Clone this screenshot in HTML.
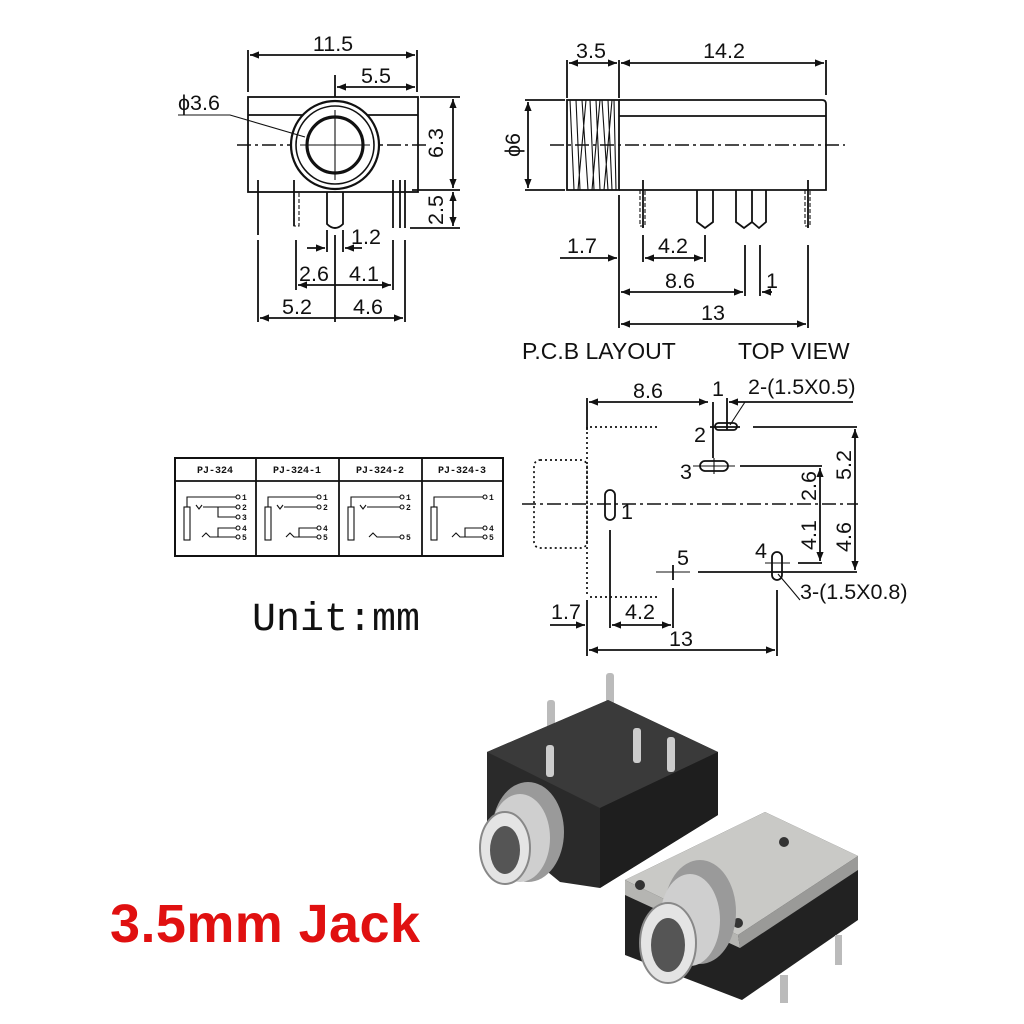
<!DOCTYPE html>
<html><head><meta charset="utf-8"><style>
html,body{margin:0;padding:0;background:#fff}
svg{display:block}
text{font-family:"Liberation Sans",sans-serif;fill:#111}
.d{stroke:#111;stroke-width:1.8;fill:none}
.t{stroke:#111;stroke-width:1.1;fill:none}
.cl{stroke:#111;stroke-width:1.4;fill:none;stroke-dasharray:14 4 3 4}
.dot{stroke:#111;stroke-width:1.7;fill:none;stroke-dasharray:2 3}
.n{font-size:21.5px}
.m{font-family:"Liberation Mono",monospace;font-size:10px;font-weight:bold}
</style></head><body>
<svg width="1024" height="1024" viewBox="0 0 1024 1024" xmlns="http://www.w3.org/2000/svg">
<defs>
<marker id="a" viewBox="0 0 10 10" refX="10" refY="5" markerWidth="7" markerHeight="5" orient="auto-start-reverse"><path d="M0,1 L10,5 L0,9z" fill="#111"/></marker>
</defs>

<!-- FRONT VIEW -->
<g>
<rect class="d" x="248" y="97" width="170" height="95"/>
<line class="d" x1="248" y1="115" x2="418" y2="115"/>
<line class="cl" x1="237" y1="145" x2="428" y2="145"/>
<circle cx="335" cy="145" r="44" fill="#fff" stroke="#111" stroke-width="2.2"/>
<circle cx="335" cy="145" r="39" fill="none" stroke="#111" stroke-width="1.6"/>
<circle cx="335" cy="145" r="28" fill="#fff" stroke="#111" stroke-width="3.2"/>
<line class="t" x1="335" y1="110" x2="335" y2="180"/>
<line class="t" x1="300" y1="145" x2="370" y2="145"/>
<line class="d" x1="258" y1="180" x2="258" y2="235"/>
<rect class="t" x="294" y="192" width="5" height="34" stroke-dasharray="4 2"/>
<line class="d" x1="294" y1="180" x2="294" y2="226"/>
<path class="d" d="M327,192 V224 Q335,232 343,224 V192"/>
<line class="d" x1="393" y1="180" x2="393" y2="228"/>
<line class="d" x1="400" y1="180" x2="400" y2="228"/>
<line class="d" x1="405" y1="180" x2="405" y2="228"/>
<line class="d" x1="248" y1="50" x2="248" y2="92"/>
<line class="d" x1="417" y1="50" x2="417" y2="92"/>
<line class="d" x1="250" y1="55" x2="415" y2="55" marker-start="url(#a)" marker-end="url(#a)"/>
<text class="n" x="333" y="51" text-anchor="middle">11.5</text>
<line class="d" x1="335" y1="75" x2="335" y2="97"/>
<line class="d" x1="337" y1="87" x2="415" y2="87" marker-start="url(#a)" marker-end="url(#a)"/>
<text class="n" x="376" y="83" text-anchor="middle">5.5</text>
<text class="n" x="178" y="110">ϕ3.6</text>
<polyline class="t" points="178,115 230,115 305,137"/>
<line class="d" x1="420" y1="97" x2="460" y2="97"/>
<line class="d" x1="412" y1="190" x2="460" y2="190"/>
<line class="d" x1="410" y1="228" x2="460" y2="228"/>
<line class="d" x1="453" y1="99" x2="453" y2="188" marker-start="url(#a)" marker-end="url(#a)"/>
<line class="d" x1="453" y1="192" x2="453" y2="226" marker-start="url(#a)" marker-end="url(#a)"/>
<text class="n" transform="translate(443,143) rotate(-90)" text-anchor="middle">6.3</text>
<text class="n" transform="translate(443,210) rotate(-90)" text-anchor="middle">2.5</text>
<line class="d" x1="327" y1="230" x2="327" y2="252"/>
<line class="d" x1="343" y1="230" x2="343" y2="252"/>
<line class="d" x1="307" y1="248" x2="325" y2="248" marker-end="url(#a)"/>
<line class="d" x1="362" y1="248" x2="345" y2="248" marker-end="url(#a)"/>
<text class="n" x="366" y="244" text-anchor="middle">1.2</text>
<line class="d" x1="258" y1="240" x2="258" y2="322"/>
<line class="d" x1="296" y1="240" x2="296" y2="290"/>
<line class="d" x1="335" y1="235" x2="335" y2="322"/>
<line class="d" x1="393" y1="240" x2="393" y2="290"/>
<line class="d" x1="405" y1="240" x2="405" y2="322"/>
<line class="d" x1="298" y1="285" x2="391" y2="285" marker-start="url(#a)" marker-end="url(#a)"/>
<text class="n" x="314" y="281" text-anchor="middle">2.6</text>
<text class="n" x="364" y="281" text-anchor="middle">4.1</text>
<line class="d" x1="260" y1="318" x2="403" y2="318" marker-start="url(#a)" marker-end="url(#a)"/>
<text class="n" x="297" y="314" text-anchor="middle">5.2</text>
<text class="n" x="368" y="314" text-anchor="middle">4.6</text>
</g>

<!-- SIDE VIEW -->
<g>
<rect class="d" x="567" y="100" width="52" height="90"/>
<g class="t">
<path d="M570,100 L574,190 M576,100 L580,190 M582,100 L588,190 M590,100 L594,190 M596,100 L600,190 M602,100 L608,190 M608,100 L612,190 M614,100 L616,190 M586,100 L578,190 M600,100 L592,190 M612,100 L604,190"/>
</g>
<path class="d" d="M619,100 H822 Q826,100 826,104 V190 H619"/>
<line class="d" x1="619" y1="116" x2="826" y2="116"/>
<line class="cl" x1="550" y1="145" x2="845" y2="145"/>
<rect class="t" x="640" y="190" width="5" height="36" stroke-dasharray="4 2"/>
<line class="d" x1="643" y1="180" x2="643" y2="228"/>
<path class="d" d="M697,190 V222 L705,228 L713,222 V190"/>
<path class="d" d="M736,190 V222 L744,228 L752,222 V190 M752,190 V222 L759,228 L766,222 V190"/>
<rect class="t" x="805" y="190" width="5" height="36" stroke-dasharray="4 2"/>
<line class="d" x1="808" y1="180" x2="808" y2="228"/>
<line class="d" x1="567" y1="60" x2="567" y2="98"/>
<line class="d" x1="619" y1="60" x2="619" y2="98"/>
<line class="d" x1="826" y1="60" x2="826" y2="95"/>
<line class="d" x1="569" y1="63" x2="617" y2="63" marker-start="url(#a)" marker-end="url(#a)"/>
<line class="d" x1="621" y1="63" x2="824" y2="63" marker-start="url(#a)" marker-end="url(#a)"/>
<text class="n" x="591" y="58" text-anchor="middle">3.5</text>
<text class="n" x="724" y="58" text-anchor="middle">14.2</text>
<line class="d" x1="525" y1="100" x2="565" y2="100"/>
<line class="d" x1="525" y1="190" x2="565" y2="190"/>
<line class="d" x1="528" y1="102" x2="528" y2="188" marker-start="url(#a)" marker-end="url(#a)"/>
<text class="n" transform="translate(520,145) rotate(-90)" text-anchor="middle">ϕ6</text>
<line class="d" x1="619" y1="195" x2="619" y2="328"/>
<line class="d" x1="560" y1="258" x2="617" y2="258" marker-end="url(#a)"/>
<text class="n" x="582" y="253" text-anchor="middle">1.7</text>
<line class="d" x1="643" y1="235" x2="643" y2="262"/>
<line class="d" x1="705" y1="235" x2="705" y2="262"/>
<line class="d" x1="645" y1="258" x2="703" y2="258" marker-start="url(#a)" marker-end="url(#a)"/>
<text class="n" x="673" y="253" text-anchor="middle">4.2</text>
<line class="d" x1="745" y1="245" x2="745" y2="296"/>
<line class="d" x1="760" y1="245" x2="760" y2="296"/>
<line class="d" x1="621" y1="292" x2="743" y2="292" marker-start="url(#a)" marker-end="url(#a)"/>
<line class="d" x1="772" y1="292" x2="762" y2="292" marker-end="url(#a)"/>
<text class="n" x="680" y="288" text-anchor="middle">8.6</text>
<text class="n" x="766" y="288">1</text>
<line class="d" x1="808" y1="245" x2="808" y2="328"/>
<line class="d" x1="621" y1="324" x2="806" y2="324" marker-start="url(#a)" marker-end="url(#a)"/>
<text class="n" x="713" y="320" text-anchor="middle">13</text>
</g>
<text x="522" y="359" style="font-size:23px">P.C.B LAYOUT</text>
<text x="738" y="359" style="font-size:23px">TOP VIEW</text>

<!-- PCB LAYOUT -->
<g>
<line class="d" x1="587" y1="398" x2="587" y2="430"/>
<line class="d" x1="589" y1="402" x2="708" y2="402" marker-start="url(#a)" marker-end="url(#a)"/>
<text class="n" x="648" y="398" text-anchor="middle">8.6</text>
<text class="n" x="718" y="396" text-anchor="middle">1</text>
<text class="n" x="748" y="394">2-(1.5X0.5)</text>
<line class="d" x1="713" y1="402" x2="713" y2="458"/>
<line class="d" x1="727" y1="398" x2="727" y2="430"/>
<line class="d" x1="740" y1="402" x2="729" y2="402" marker-end="url(#a)"/>
<line class="d" x1="740" y1="402" x2="853" y2="402"/>
<line class="t" x1="745" y1="402" x2="730" y2="425"/>
<line class="dot" x1="590" y1="427" x2="658" y2="427"/>
<line class="dot" x1="587" y1="427" x2="587" y2="597"/>
<line class="dot" x1="590" y1="597" x2="658" y2="597"/>
<rect class="dot" x="534" y="460" width="53" height="88" rx="6"/>
<rect class="d" x="715" y="423" width="22" height="7" rx="3.5"/>
<line class="d" x1="710" y1="427" x2="740" y2="427"/>
<line class="d" x1="753" y1="427" x2="857" y2="427"/>
<text class="n" x="700" y="442" text-anchor="middle">2</text>
<rect class="d" x="700" y="461" width="28" height="10" rx="5"/>
<line class="t" x1="714" y1="458" x2="714" y2="474"/>
<line class="t" x1="693" y1="466" x2="735" y2="466"/>
<line class="d" x1="740" y1="466" x2="822" y2="466"/>
<text class="n" x="686" y="479" text-anchor="middle">3</text>
<line class="cl" x1="522" y1="504" x2="858" y2="504"/>
<rect class="d" x="605" y="490" width="10" height="30" rx="5"/>
<text class="n" x="627" y="519" text-anchor="middle">1</text>
<line class="d" x1="610" y1="530" x2="610" y2="628"/>
<line class="t" x1="656" y1="572" x2="690" y2="572"/>
<line class="d" x1="673" y1="565" x2="673" y2="580"/>
<text class="n" x="683" y="565" text-anchor="middle">5</text>
<line class="d" x1="698" y1="572" x2="857" y2="572"/>
<rect class="d" x="772" y="552" width="10" height="28" rx="5"/>
<line class="t" x1="765" y1="563" x2="790" y2="563"/>
<line class="d" x1="798" y1="563" x2="822" y2="563"/>
<text class="n" x="761" y="558" text-anchor="middle">4</text>
<polyline class="t" points="778,574 790,588 800,600"/>
<text class="n" x="800" y="599">3-(1.5X0.8)</text>
<line class="d" x1="777" y1="590" x2="777" y2="656"/>
<line class="d" x1="673" y1="588" x2="673" y2="628"/>
<line class="d" x1="855" y1="429" x2="855" y2="570" marker-start="url(#a)" marker-end="url(#a)"/>
<line class="d" x1="820" y1="468" x2="820" y2="561" marker-start="url(#a)" marker-end="url(#a)"/>
<text class="n" transform="translate(851,465) rotate(-90)" text-anchor="middle">5.2</text>
<text class="n" transform="translate(816,486) rotate(-90)" text-anchor="middle">2.6</text>
<text class="n" transform="translate(816,535) rotate(-90)" text-anchor="middle">4.1</text>
<text class="n" transform="translate(851,537) rotate(-90)" text-anchor="middle">4.6</text>
<line class="d" x1="587" y1="600" x2="587" y2="656"/>
<line class="d" x1="550" y1="625" x2="585" y2="625" marker-end="url(#a)"/>
<text class="n" x="566" y="619" text-anchor="middle">1.7</text>
<line class="d" x1="612" y1="625" x2="671" y2="625" marker-start="url(#a)" marker-end="url(#a)"/>
<text class="n" x="640" y="619" text-anchor="middle">4.2</text>
<line class="d" x1="589" y1="650" x2="775" y2="650" marker-start="url(#a)" marker-end="url(#a)"/>
<text class="n" x="681" y="646" text-anchor="middle">13</text>
</g>

<!-- SCHEMATIC TABLE -->
<g>
<rect x="175" y="458" width="328" height="98" fill="none" stroke="#111" stroke-width="2"/>
<line class="d" x1="175" y1="481" x2="503" y2="481"/>
<line class="d" x1="256" y1="458" x2="256" y2="556"/>
<line class="d" x1="339" y1="458" x2="339" y2="556"/>
<line class="d" x1="422" y1="458" x2="422" y2="556"/>
<text class="m" x="215" y="473" text-anchor="middle">PJ-324</text>
<text class="m" x="297" y="473" text-anchor="middle">PJ-324-1</text>
<text class="m" x="380" y="473" text-anchor="middle">PJ-324-2</text>
<text class="m" x="462" y="473" text-anchor="middle">PJ-324-3</text>
<g transform="translate(175,0)">
<rect class="t" x="9" y="507" width="6" height="33"/>
<polyline class="t" points="12,507 12,497 61,497"/><circle cx="63" cy="497" r="2" class="t"/><text x="67" y="500" class="m" style="font-size:8px">1</text>
<path class="t" d="M21,505 L24,509 L27,505"/>
<polyline class="t" points="28,507 61,507"/><circle cx="63" cy="507" r="2" class="t"/><text x="67" y="510" class="m" style="font-size:8px">2</text>
<polyline class="t" points="43,507 43,517 61,517"/><circle cx="63" cy="517" r="2" class="t"/><text x="67" y="520" class="m" style="font-size:8px">3</text>
<polyline class="t" points="43,537 43,528 61,528"/><circle cx="63" cy="528" r="2" class="t"/><text x="67" y="531" class="m" style="font-size:8px">4</text>
<path class="t" d="M27,537 L31,533 L35,537 H61"/><circle cx="63" cy="537" r="2" class="t"/><text x="67" y="540" class="m" style="font-size:8px">5</text>
</g>
<g transform="translate(256,0)">
<rect class="t" x="9" y="507" width="6" height="33"/>
<polyline class="t" points="12,507 12,497 61,497"/><circle cx="63" cy="497" r="2" class="t"/><text x="67" y="500" class="m" style="font-size:8px">1</text>
<path class="t" d="M21,505 L24,509 L27,505"/>
<polyline class="t" points="28,507 61,507"/><circle cx="63" cy="507" r="2" class="t"/><text x="67" y="510" class="m" style="font-size:8px">2</text>
<polyline class="t" points="43,537 43,528 61,528"/><circle cx="63" cy="528" r="2" class="t"/><text x="67" y="531" class="m" style="font-size:8px">4</text>
<path class="t" d="M30,537 L34,533 L38,537 H61"/><circle cx="63" cy="537" r="2" class="t"/><text x="67" y="540" class="m" style="font-size:8px">5</text>
</g>
<g transform="translate(339,0)">
<rect class="t" x="9" y="507" width="6" height="33"/>
<polyline class="t" points="12,507 12,497 61,497"/><circle cx="63" cy="497" r="2" class="t"/><text x="67" y="500" class="m" style="font-size:8px">1</text>
<path class="t" d="M21,505 L24,509 L27,505"/>
<polyline class="t" points="28,507 61,507"/><circle cx="63" cy="507" r="2" class="t"/><text x="67" y="510" class="m" style="font-size:8px">2</text>
<path class="t" d="M30,537 L34,533 L38,537 H61"/><circle cx="63" cy="537" r="2" class="t"/><text x="67" y="540" class="m" style="font-size:8px">5</text>
</g>
<g transform="translate(422,0)">
<rect class="t" x="9" y="507" width="6" height="33"/>
<polyline class="t" points="12,507 12,497 61,497"/><circle cx="63" cy="497" r="2" class="t"/><text x="67" y="500" class="m" style="font-size:8px">1</text>
<polyline class="t" points="43,537 43,528 61,528"/><circle cx="63" cy="528" r="2" class="t"/><text x="67" y="531" class="m" style="font-size:8px">4</text>
<path class="t" d="M30,537 L34,533 L38,537 H61"/><circle cx="63" cy="537" r="2" class="t"/><text x="67" y="540" class="m" style="font-size:8px">5</text>
</g>
</g>

<text x="252" y="630" style="font-family:'Liberation Mono',monospace;font-size:40px">Unit:mm</text>
<text x="110" y="942" textLength="310" style="font-size:54px;font-weight:bold;fill:#e01010">3.5mm Jack</text>

<!-- PHOTO approximation -->
<g>
<rect x="606" y="673" width="8" height="40" rx="3" fill="#bbb"/>
<rect x="547" y="700" width="8" height="35" rx="3" fill="#bbb"/>
<polygon points="487,752 608,700 718,752 718,815 600,888 560,882 487,822" fill="#2a2a2a"/>
<polygon points="487,752 608,700 718,752 600,808" fill="#3a3a3a"/>
<polygon points="600,808 718,752 718,815 600,888" fill="#1e1e1e"/>
<rect x="546" y="745" width="8" height="32" rx="3" fill="#ccc"/>
<rect x="633" y="728" width="8" height="35" rx="3" fill="#ccc"/>
<rect x="667" y="737" width="8" height="35" rx="3" fill="#ccc"/>
<ellipse cx="528" cy="832" rx="36" ry="50" fill="#9a9a9a"/>
<ellipse cx="520" cy="838" rx="30" ry="44" fill="#cfcfcf"/>
<ellipse cx="505" cy="848" rx="25" ry="36" fill="#e4e4e4" stroke="#888" stroke-width="2"/>
<ellipse cx="505" cy="850" rx="15" ry="24" fill="#555"/>
<polygon points="625,880 765,812 858,856 858,920 742,1000 625,955" fill="#222"/>
<polygon points="625,880 765,812 858,856 738,935" fill="#c9c9c6"/>
<polygon points="625,880 738,935 740,948 625,895" fill="#b5b5b2"/>
<polygon points="738,935 858,856 858,870 740,948" fill="#9a9a98"/>
<circle cx="640" cy="885" r="5" fill="#333"/>
<circle cx="738" cy="923" r="5" fill="#333"/>
<circle cx="784" cy="842" r="5" fill="#333"/>
<rect x="780" y="975" width="8" height="28" fill="#bbb"/>
<rect x="835" y="935" width="7" height="30" fill="#bbb"/>
<ellipse cx="700" cy="912" rx="36" ry="52" fill="#9a9a9a"/>
<ellipse cx="690" cy="920" rx="30" ry="46" fill="#cfcfcf"/>
<ellipse cx="668" cy="943" rx="28" ry="40" fill="#e4e4e4" stroke="#888" stroke-width="2"/>
<ellipse cx="668" cy="945" rx="17" ry="27" fill="#555"/>
</g>
</svg>
</body></html>
